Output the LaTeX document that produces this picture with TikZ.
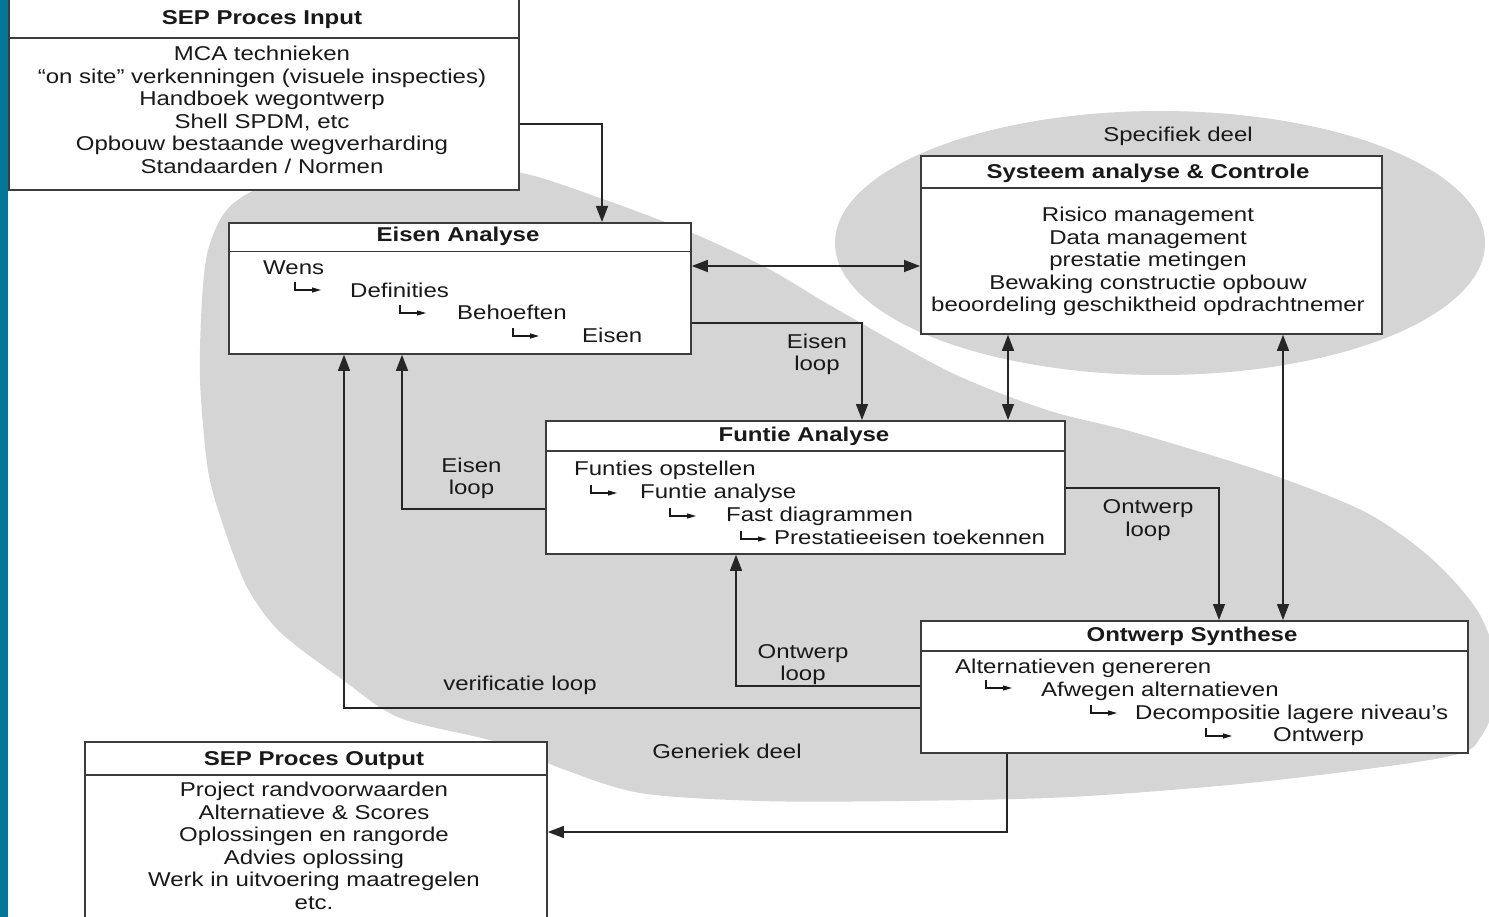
\documentclass[tikz,border=0pt]{standalone}
\usepackage{fontspec}
\setmainfont{Liberation Sans}[FakeStretch=1.2]
\usetikzlibrary{arrows.meta}
\definecolor{barblue}{RGB}{0,118,150}
\definecolor{zone}{RGB}{213,213,213}
\definecolor{edge}{RGB}{60,60,60}
\tikzset{
  every node/.style={font=\fontsize{20}{22.5}\selectfont, text=black!90, inner sep=0pt},
  procbox/.style={draw=edge, line width=1.8pt, fill=white, anchor=north west, inner sep=0pt},
  sepline/.style={draw=edge, line width=1.8pt},
  boxtitle/.style={font=\fontsize{20}{22.5}\selectfont\bfseries, anchor=base},
  bodyline/.style={anchor=base},
  listitem/.style={anchor=base west},
  conn/.style={draw=black!85, line width=1.4pt, -{Triangle[length=16pt,width=12pt]}},
  dconn/.style={draw=black!85, line width=1.4pt, {Triangle[length=16pt,width=12pt]}-{Triangle[length=16pt,width=12pt]}},
  hookarr/.pic={\draw[black!90, line width=1.1pt, -{Triangle[length=9pt,width=5pt]}] (0,0) -- (0,8) -- (26,8);},
}
\begin{document}
\begin{tikzpicture}[x=1pt,y=-1pt]
\useasboundingbox (0,0) rectangle (1489,917);
\clip (0,0) rectangle (1489,917);

% shaded zones: generic and specific parts
\fill[zone] plot[smooth cycle] coordinates {
  (225,212) (255,190) (310,175) (420,166) (517,172) (600,198) (690,232)
  (767,268) (833,307) (950,372) (1047,410) (1133,432) (1267,473) (1367,513)
  (1433,560) (1480,615) (1500,680) (1482,735) (1446,757) (1259,782)
  (1070,797) (900,801) (760,801) (640,793) (560,768) (497,742) (400,718)
  (343,680) (280,632) (247,587) (223,525) (208,470) (200,380) (202,300) (208,250)};
\fill[zone] (1160,243) ellipse [x radius=325, y radius=132];

% side bar
\fill[barblue] (0,0) rectangle (8,917);

% process boxes
\node[procbox, minimum width=510pt, minimum height=199pt] (input) at (8,-10) {};
\node[procbox, minimum width=462pt, minimum height=131pt] (eisen) at (228,222) {};
\node[procbox, minimum width=461pt, minimum height=178pt] (sys) at (920,155) {};
\node[procbox, minimum width=519pt, minimum height=133pt] (funtie) at (545,420) {};
\node[procbox, minimum width=547pt, minimum height=132pt] (ontwerp) at (920,620) {};
\node[procbox, minimum width=462pt, minimum height=200pt] (output) at (84,741) {};

% header separators
\draw[sepline] (input.west |- 0,38) -- (input.east |- 0,38);
\draw[sepline] (eisen.west |- 0,251.5) -- (eisen.east |- 0,251.5);
\draw[sepline] (sys.west |- 0,188) -- (sys.east |- 0,188);
\draw[sepline] (funtie.west |- 0,451) -- (funtie.east |- 0,451);
\draw[sepline] (ontwerp.west |- 0,651) -- (ontwerp.east |- 0,651);
\draw[sepline] (output.west |- 0,775) -- (output.east |- 0,775);

% titles
\node[boxtitle] (inputT) at (262,25) {SEP Proces Input};
\node[boxtitle] (eisenT) at (458,242) {Eisen Analyse};
\node[boxtitle] (sysT) at (1148,179) {Systeem analyse \& Controle};
\node[boxtitle] (funtieT) at (804,441.5) {Funtie Analyse};
\node[boxtitle] (ontwerpT) at (1192,641) {Ontwerp Synthese};
\node[boxtitle] (outputT) at (314,765) {SEP Proces Output};

% centred box contents
\foreach \t [count=\i] in {MCA technieken, “on site” verkenningen (visuele inspecties),
    Handboek wegontwerp, {Shell SPDM, etc}, Opbouw bestaande wegverharding, Standaarden / Normen}
  \node[bodyline] (in\i) at ({262},{60.8+22.5*(\i-1)}) {\t};
\foreach \t [count=\i] in {Risico management, Data management, prestatie metingen,
    Bewaking constructie opbouw, beoordeling geschiktheid opdrachtnemer}
  \node[bodyline] (sy\i) at ({1148},{221.7+22.5*(\i-1)}) {\t};
\foreach \t [count=\i] in {Project randvoorwaarden, Alternatieve \& Scores, Oplossingen en rangorde,
    Advies oplossing, Werk in uitvoering maatregelen, etc.}
  \node[bodyline] (out\i) at ({314},{796.7+22.5*(\i-1)}) {\t};

% stepped lists
\node[listitem] (e1) at (263,275) {Wens};
\node[listitem] (e2) at (350,297.5) {Definities};
\node[listitem] (e3) at (457,320) {Behoeften};
\node[listitem] (e4) at (582,342.7) {Eisen};
\pic at (295,282) {hookarr};
\pic at (400,305) {hookarr};
\pic at (513,328) {hookarr};

\node[listitem] (f1) at (574,475) {Funties opstellen};
\node[listitem] (f2) at (640,498) {Funtie analyse};
\node[listitem] (f3) at (726,521.5) {Fast diagrammen};
\node[listitem] (f4) at (774,544.5) {Prestatieeisen toekennen};
\pic at (591,485) {hookarr};
\pic at (670,508) {hookarr};
\pic at (741,531) {hookarr};

\node[listitem] (o1) at (955,673.3) {Alternatieven genereren};
\node[listitem] (o2) at (1041,696) {Afwegen alternatieven};
\node[listitem] (o3) at (1135,719) {Decompositie lagere niveau's};
\node[listitem] (o4) at (1273,741.7) {Ontwerp};
\pic at (986,680) {hookarr};
\pic at (1091,705) {hookarr};
\pic at (1206,728) {hookarr};

% connectors
\draw[conn] (input.east |- 0,124) -| (602,0 |- eisen.north);
\draw[dconn] (eisen.east |- 0,266) -- (sys.west |- 0,266);
\draw[conn] (eisen.east |- 0,323) -| (862,0 |- funtie.north);
\draw[dconn] (1008,0 |- sys.south) -- (1008,0 |- funtie.north);
\draw[dconn] (1283,0 |- sys.south) -- (1283,0 |- ontwerp.north);
\draw[conn] (funtie.east |- 0,488) -| (1219,0 |- ontwerp.north);
\draw[conn] (funtie.west |- 0,509) -| (402,0 |- eisen.south);
\draw[conn] (ontwerp.west |- 0,686) -| (736,0 |- funtie.south);
\draw[conn] (ontwerp.west |- 0,708) -| (344,0 |- eisen.south);
\draw[conn] (1007,0 |- ontwerp.south) |- (output.east |- 0,832);

% loop labels
\node[bodyline] (l1a) at (817,348.3) {Eisen};
\node[bodyline] (l1b) at (817,370.5) {loop};
\node[bodyline] (l2a) at (471.5,472.3) {Eisen};
\node[bodyline] (l2b) at (471.5,494.5) {loop};
\node[bodyline] (l3a) at (1148,513.3) {Ontwerp};
\node[bodyline] (l3b) at (1148,536) {loop};
\node[bodyline] (l4a) at (803,658) {Ontwerp};
\node[bodyline] (l4b) at (803,680) {loop};
\node[bodyline] (l5) at (520,690.7) {verificatie loop};

% zone labels
\node[bodyline] (spec) at (1178,141.7) {Specifiek deel};
\node[bodyline] (gen) at (727,758.3) {Generiek deel};
\end{tikzpicture}
\end{document}
